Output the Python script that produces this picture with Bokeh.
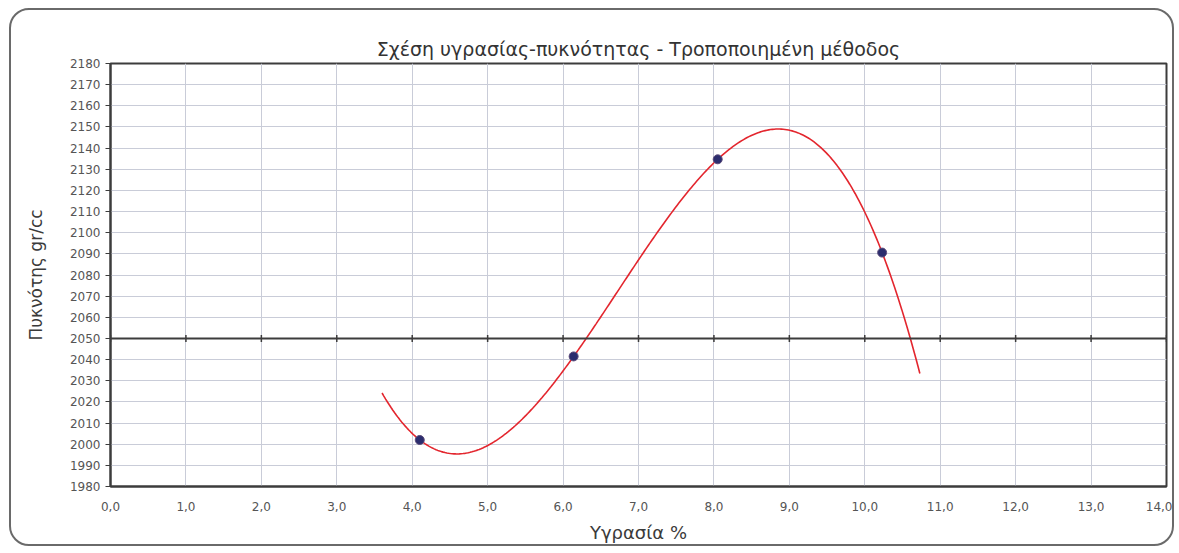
import numpy as np
from bokeh.plotting import figure
from bokeh.models import Range1d, FixedTicker, Span
from bokeh.embed import file_html
from bokeh.resources import INLINE

# Compaction test results: moisture content (%) vs dry density
moisture = [4.10, 6.14, 8.05, 10.23]
density = [2002.0, 2041.5, 2134.7, 2090.6]

# Axis definitions
x_ticks = list(range(0, 15))
x_tick_labels = ["0,0", "1,0", "2,0", "3,0", "4,0", "5,0", "6,0", "7,0",
                 "8,0", "9,0", "10,0", "11,0", "12,0", "13,0", "14,0"]
y_ticks = list(range(1980, 2181, 10))
x_axis_cross = 2050

# Polynomial trendline (order 3), extended half a unit on each side
trend_order = 3
trend_extend = 0.5
coef = np.polyfit(moisture, density, trend_order)
trend_x = np.linspace(min(moisture) - trend_extend, max(moisture) + trend_extend, 300)
trend_y = np.polyval(coef, trend_x)

FONT = "DejaVu Sans"
TEXT = "#3a3a3a"

p = figure(width=1165, height=538, output_backend="svg", toolbar_location=None,
           x_range=Range1d(0, 14), y_range=Range1d(1980, 2180),
           min_border_left=99, min_border_right=10,
           min_border_top=53, min_border_bottom=62,
           background_fill_color="white", border_fill_alpha=0)

# Rounded frame around the whole chart
p.styles = {"border": "2px solid #6a6a6a", "border-radius": "20px",
            "margin-left": "9px", "margin-top": "8px", "background": "white"}

p.title.text = "Σχέση υγρασίας-πυκνότητας - Τροποποιημένη μέθοδος"
p.title.align = "center"
p.title.text_font = FONT
p.title.text_font_size = "19px"
p.title.text_font_style = "normal"
p.title.text_color = "#333333"
p.title.standoff = 8

p.outline_line_color = "#3c3c3c"
p.outline_line_width = 2

# Grid
p.xgrid.ticker = FixedTicker(ticks=x_ticks)
p.ygrid.ticker = FixedTicker(ticks=y_ticks)
for g in (p.xgrid, p.ygrid):
    g.grid_line_color = "#c9ccd8"
    g.grid_line_width = 1

# X axis (labels sit at the bottom of the plot area)
xa = p.xaxis[0]
xa.ticker = FixedTicker(ticks=x_ticks)
xa.major_label_overrides = {t: s for t, s in zip(x_ticks, x_tick_labels)}
xa.axis_label = "Υγρασία %"
xa.axis_label_text_font = FONT
xa.axis_label_text_font_size = "18px"
xa.axis_label_text_font_style = "normal"
xa.axis_label_text_color = TEXT
xa.axis_label_standoff = 8
xa.major_label_text_font = FONT
xa.major_label_text_font_size = "12px"
xa.major_label_text_color = "#555555"
xa.major_label_standoff = 15
xa.major_tick_out = 0
xa.major_tick_in = 0
xa.minor_tick_out = 0
xa.minor_tick_in = 0
xa.axis_line_color = "#3c3c3c"
xa.axis_line_width = 2

# Y axis
ya = p.yaxis[0]
ya.ticker = FixedTicker(ticks=y_ticks)
ya.axis_label = "Πυκνότης gr/cc"
ya.axis_label_text_font = FONT
ya.axis_label_text_font_size = "17px"
ya.axis_label_text_font_style = "normal"
ya.axis_label_text_color = TEXT
ya.axis_label_standoff = 21
ya.major_label_text_font = FONT
ya.major_label_text_font_size = "12px"
ya.major_label_text_color = "#555555"
ya.major_label_standoff = 5
ya.major_tick_out = 5
ya.major_tick_in = 0
ya.minor_tick_out = 0
ya.minor_tick_in = 0
ya.major_tick_line_color = "#3c3c3c"
ya.axis_line_color = "#3c3c3c"
ya.axis_line_width = 2

# Horizontal axis line crossing at 2050 with its tick marks
p.add_layout(Span(location=x_axis_cross, dimension="width",
                  line_color="#3c3c3c", line_width=2))
p.scatter(x_ticks, [x_axis_cross] * len(x_ticks), marker="dash", angle=np.pi / 2,
          size=7, line_color="#3c3c3c", line_width=1.5)

# Trendline and measured points
p.line(trend_x, trend_y, line_color="#e3262e", line_width=1.6)
p.scatter(moisture, density, size=9, fill_color="#2b2d6e",
          line_color="#5a4a7a", line_width=1)

open("out.html", "w").write(file_html(p, INLINE))
